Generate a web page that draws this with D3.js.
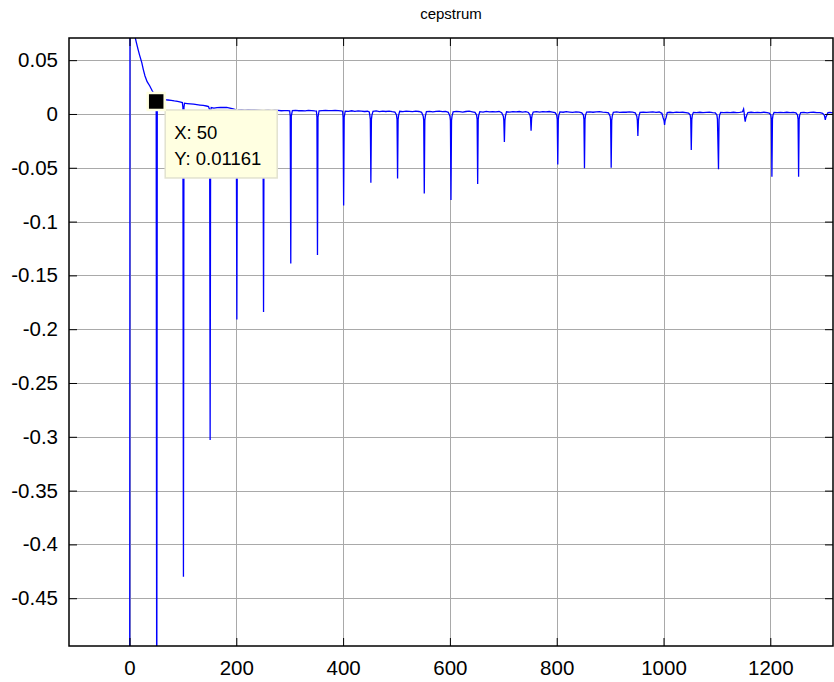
<!DOCTYPE html>
<html>
<head>
<meta charset="utf-8">
<script src="https://d3js.org/d3.v7.min.js"></script>
<style>
  body { margin: 0; background: #fff; }
  text { font-family: "Liberation Sans", Arial, sans-serif; }
</style>
</head>
<body>
<div id="chart-area"></div>
<script>
  // quefrency index (samples) and cepstrum values
  var quefrency = [
    0, 1, 3, 5, 7, 10, 13, 16, 19, 23, 26, 29, 33, 38, 42, 45, 48, 50, 51,
    52, 56, 61, 66, 72, 78, 84, 90, 96, 99, 100, 101,
    102, 103, 108, 114, 120, 126, 132, 138, 144, 148, 150, 151,
    152, 153, 158, 164, 170, 176, 182, 188, 194, 198, 200, 201,
    202, 204, 210, 216, 222, 228, 234, 240, 245, 249, 250, 251,
    252, 254, 260, 266, 272, 278, 284, 290, 296, 300, 301, 302,
    303, 305, 311, 317, 323, 329, 335, 341, 347, 350, 351, 352,
    353, 355, 361, 367, 373, 379, 385, 391, 396, 399, 400, 401,
    402, 404, 410, 416, 422, 428, 434, 440, 446, 449, 450, 451, 452,
    453, 454, 456, 462, 468, 474, 480, 486, 492, 497, 500, 501, 502,
    503, 504, 506, 512, 518, 524, 530, 536, 542, 547, 550, 551, 552,
    553, 554, 556, 562, 568, 574, 580, 586, 592, 597, 600, 601, 602,
    603, 604, 606, 612, 618, 624, 630, 636, 642, 647, 650, 651, 652,
    653, 654, 656, 662, 668, 674, 680, 686, 692, 697, 700, 701, 702,
    703, 704, 706, 712, 718, 724, 730, 736, 742, 747, 750, 751, 752,
    753, 754, 756, 762, 768, 774, 780, 786, 792, 797, 800, 801, 802,
    803, 804, 806, 812, 818, 824, 830, 836, 842, 847, 850, 851, 852,
    853, 854, 856, 862, 868, 874, 880, 886, 892, 897, 900, 901, 902,
    903, 904, 906, 912, 918, 924, 930, 936, 942, 947, 950, 951, 952,
    953, 954, 956, 962, 968, 974, 980, 986, 992, 997, 999, 1001, 1002,
    1003, 1005, 1007, 1012, 1018, 1024, 1030, 1036, 1042, 1047, 1050, 1051, 1052,
    1053, 1054, 1056, 1062, 1068, 1074, 1080, 1086, 1092, 1097, 1100, 1101, 1103,
    1104, 1105, 1107, 1113, 1119, 1125, 1131, 1137, 1143, 1148, 1150, 1151, 1152, 1153,
    1154, 1156, 1158, 1164, 1170, 1176, 1182, 1188, 1194, 1198, 1201, 1202, 1203,
    1204, 1205, 1207, 1213, 1219, 1225, 1231, 1237, 1243, 1248, 1251, 1252, 1253,
    1254, 1255, 1257, 1263, 1269, 1275, 1281, 1287, 1293, 1298, 1301, 1302, 1303,
    1304, 1306, 1308, 1312, 1316, 1320
  ];
  var cepValue = [
    -1.0, 0.26, 0.16, 0.115, 0.092, 0.0725, 0.066, 0.0601, 0.0545, 0.0477, 0.041, 0.0353, 0.030, 0.026, 0.022, 0.0195, 0.015, 0.01161, -0.62,
    0.0138, 0.0142, 0.0139, 0.0133, 0.0130, 0.0126, 0.0121, 0.0117, 0.0111, 0.0106, 0.006, -0.430,
    0.006, 0.0100, 0.0097, 0.0094, 0.0091, 0.0087, 0.0083, 0.0079, 0.0074, 0.0069, 0.004, -0.303,
    0.003, 0.0060, 0.0054, 0.0059, 0.0062, 0.0060, 0.0061, 0.0055, 0.0048, 0.0042, 0.001, -0.191,
    0.001, 0.0038, 0.0041, 0.0036, 0.0039, 0.0037, 0.0038, 0.0036, 0.0034, 0.0032, 0.000, -0.184,
    0.000, 0.0034, 0.0036, 0.0031, 0.0035, 0.0033, 0.0030, 0.0032, 0.0031, 0.0029, -0.002, -0.139,
    -0.002, 0.0031, 0.0034, 0.0030, 0.0032, 0.0029, 0.0033, 0.0031, 0.0028, 0.0027, -0.003, -0.131,
    -0.003, 0.0030, 0.0032, 0.0033, 0.0032, 0.0032, 0.0033, 0.0031, 0.0029, 0.0026, -0.003, -0.085,
    -0.003, 0.0027, 0.0025, 0.0030, 0.0024, 0.0028, 0.0026, 0.0023, 0.0025, 0.0018, -0.001, -0.005, -0.064,
    -0.005, -0.001, 0.0024, 0.0028, 0.0022, 0.0026, 0.0023, 0.0027, 0.0021, 0.0018, -0.001, -0.005, -0.060,
    -0.005, -0.001, 0.0025, 0.0022, 0.0027, 0.0024, 0.0021, 0.0026, 0.0023, 0.0015, -0.002, -0.006, -0.074,
    -0.006, -0.002, 0.0022, 0.0025, 0.0020, 0.0024, 0.0027, 0.0021, 0.0023, 0.0016, -0.002, -0.006, -0.080,
    -0.006, -0.002, 0.0020, 0.0024, 0.0021, 0.0018, 0.0023, 0.0026, 0.0020, 0.0015, -0.001, -0.005, -0.065,
    -0.005, -0.001, 0.0021, 0.0018, 0.0024, 0.0020, 0.0022, 0.0019, 0.0023, 0.0012, -0.002, -0.006, -0.026,
    -0.006, -0.002, 0.0020, 0.0017, 0.0022, 0.0019, 0.0023, 0.0018, 0.0021, 0.0014, -0.001, -0.004, -0.0155,
    -0.004, -0.001, 0.0018, 0.0022, 0.0017, 0.0021, 0.0019, 0.0023, 0.0018, 0.0012, -0.001, -0.005, -0.047,
    -0.005, -0.001, 0.0019, 0.0016, 0.0021, 0.0018, 0.0015, 0.0020, 0.0017, 0.0011, -0.001, -0.005, -0.0505,
    -0.005, -0.001, 0.0017, 0.0020, 0.0016, 0.0019, 0.0022, 0.0017, 0.0015, 0.0010, -0.002, -0.006, -0.050,
    -0.006, -0.002, 0.0016, 0.0019, 0.0015, 0.0018, 0.0016, 0.0020, 0.0017, 0.0011, -0.002, -0.006, -0.0205,
    -0.006, -0.002, 0.0015, 0.0018, 0.0014, 0.0017, 0.0019, 0.0015, 0.0018, 0.0006, -0.003, -0.006, -0.0102,
    -0.006, -0.003, 0.0012, 0.0016, 0.0013, 0.0017, 0.0014, 0.0016, 0.0013, 0.0009, -0.001, -0.005, -0.0335,
    -0.005, -0.001, 0.0015, 0.0012, 0.0016, 0.0013, 0.0015, 0.0017, 0.0012, 0.0010, -0.001, -0.005, -0.0514,
    -0.005, -0.001, 0.0014, 0.0012, 0.0015, 0.0013, 0.0016, 0.0012, 0.0014, 0.0020, 0.0045, 0.0010, -0.004, -0.0071,
    -0.004, -0.001, 0.0013, 0.0016, 0.0012, 0.0015, 0.0013, 0.0016, 0.0012, 0.0008, -0.001, -0.005, -0.0583,
    -0.005, -0.001, 0.0014, 0.0012, 0.0015, 0.0013, 0.0016, 0.0012, 0.0015, 0.0010, -0.001, -0.005, -0.0583,
    -0.005, -0.001, 0.0013, 0.0015, 0.0011, 0.0014, 0.0016, 0.0012, 0.0013, 0.0006, -0.001, -0.003, -0.0056,
    -0.003, -0.001, 0.0012, 0.0014, 0.0011, 0.0013
  ];

  var xTicks = [0, 200, 400, 600, 800, 1000, 1200];
  var xTickLabels = ['0', '200', '400', '600', '800', '1000', '1200'];
  var yTicks = [0.05, 0, -0.05, -0.1, -0.15, -0.2, -0.25, -0.3, -0.35, -0.4, -0.45];
  var yTickLabels = ['0.05', '0', '-0.05', '-0.1', '-0.15', '-0.2', '-0.25', '-0.3', '-0.35', '-0.4', '-0.45'];
  var xLimits = [-113.3, 1317.4];
  var yLimits = [-0.4944, 0.0706];

  // data cursor shown on the figure
  var tipX = 50, tipY = 0.01161;

  var margin = {left: 69, right: 1, top: 38, bottom: 36};
  var width = 834 - margin.left - margin.right,
      height = 682 - margin.top - margin.bottom;

  var svg = d3.select('#chart-area')
      .append('svg')
      .attr('width', 834)
      .attr('height', 682);
  var g = svg.append('g')
      .attr('transform', 'translate(' + margin.left + ',' + margin.top + ')');

  var x = d3.scaleLinear().domain(xLimits).range([0, width]);
  var y = d3.scaleLinear().domain(yLimits).range([height, 0]);

  // grid lines
  g.append('g').selectAll('line.vgrid')
    .data(xTicks).enter().append('line')
      .attr('x1', function(d) { return Math.round(x(d)) + 0.5; })
      .attr('x2', function(d) { return Math.round(x(d)) + 0.5; })
      .attr('y1', 0).attr('y2', height)
      .attr('stroke', '#a9a9a9').attr('stroke-width', 1);
  g.append('g').selectAll('line.hgrid')
    .data(yTicks).enter().append('line')
      .attr('y1', function(d) { return Math.round(y(d)) + 0.5; })
      .attr('y2', function(d) { return Math.round(y(d)) + 0.5; })
      .attr('x1', 0).attr('x2', width)
      .attr('stroke', '#a9a9a9').attr('stroke-width', 1);

  // cepstrum line
  svg.append('defs').append('clipPath').attr('id', 'plot-clip')
    .append('rect').attr('width', width).attr('height', height);

  var line = d3.line()
      .x(function(d, i) { return x(quefrency[i]); })
      .y(function(d) { return y(d); });
  g.append('path')
      .attr('clip-path', 'url(#plot-clip)')
      .attr('fill', 'none')
      .attr('stroke', '#0000ff')
      .attr('stroke-width', 1.3)
      .attr('d', line(cepValue));

  // axes: ticks point inward on all four sides
  var xAxisBottom = d3.axisBottom(x).tickValues(xTicks).tickSize(-8).tickPadding(14)
      .tickFormat(function(d, i) { return xTickLabels[i]; });
  var xAxisTop = d3.axisTop(x).tickValues(xTicks).tickSize(-8).tickFormat('');
  var yAxisLeft = d3.axisLeft(y).tickValues(yTicks).tickSize(-8).tickPadding(11)
      .tickFormat(function(d, i) { return yTickLabels[i]; });
  var yAxisRight = d3.axisRight(y).tickValues(yTicks).tickSize(-8).tickFormat('');

  g.append('g').attr('transform', 'translate(0,' + height + ')').call(xAxisBottom);
  g.append('g').call(xAxisTop);
  g.append('g').call(yAxisLeft);
  g.append('g').attr('transform', 'translate(' + width + ',0)').call(yAxisRight);

  g.selectAll('.domain').remove();
  g.selectAll('.tick line').attr('stroke', '#000');
  g.selectAll('.tick text')
      .attr('fill', '#000')
      .attr('font-size', '20.5px')
      .attr('font-family', '"Liberation Sans", Arial, sans-serif');

  g.append('rect')
      .attr('width', width).attr('height', height)
      .attr('fill', 'none')
      .attr('stroke', '#000')
      .attr('stroke-width', 1.5);

  // title
  svg.append('text')
      .attr('x', margin.left + width / 2)
      .attr('y', 19)
      .attr('text-anchor', 'middle')
      .attr('font-size', '15px')
      .text('cepstrum');

  // data tip
  var tx = x(tipX), ty = y(tipY);
  var tip = g.append('g');
  tip.append('rect')
      .attr('x', tx + 9).attr('y', ty + 8.5)
      .attr('width', 112).attr('height', 68)
      .attr('fill', '#ffffe1')
      .attr('stroke', '#e2e2cf')
      .attr('stroke-width', 1.5);
  tip.append('rect')
      .attr('x', tx - 8.5).attr('y', ty - 8.5)
      .attr('width', 17).attr('height', 17)
      .attr('fill', '#000')
      .attr('stroke', '#ffffe1')
      .attr('stroke-width', 2.5);
  tip.append('text')
      .attr('x', tx + 18).attr('y', ty + 38)
      .attr('font-size', '18.5px')
      .text('X: ' + tipX);
  tip.append('text')
      .attr('x', tx + 18).attr('y', ty + 63.5)
      .attr('font-size', '18.5px')
      .text('Y: ' + tipY);
</script>
</body>
</html>
